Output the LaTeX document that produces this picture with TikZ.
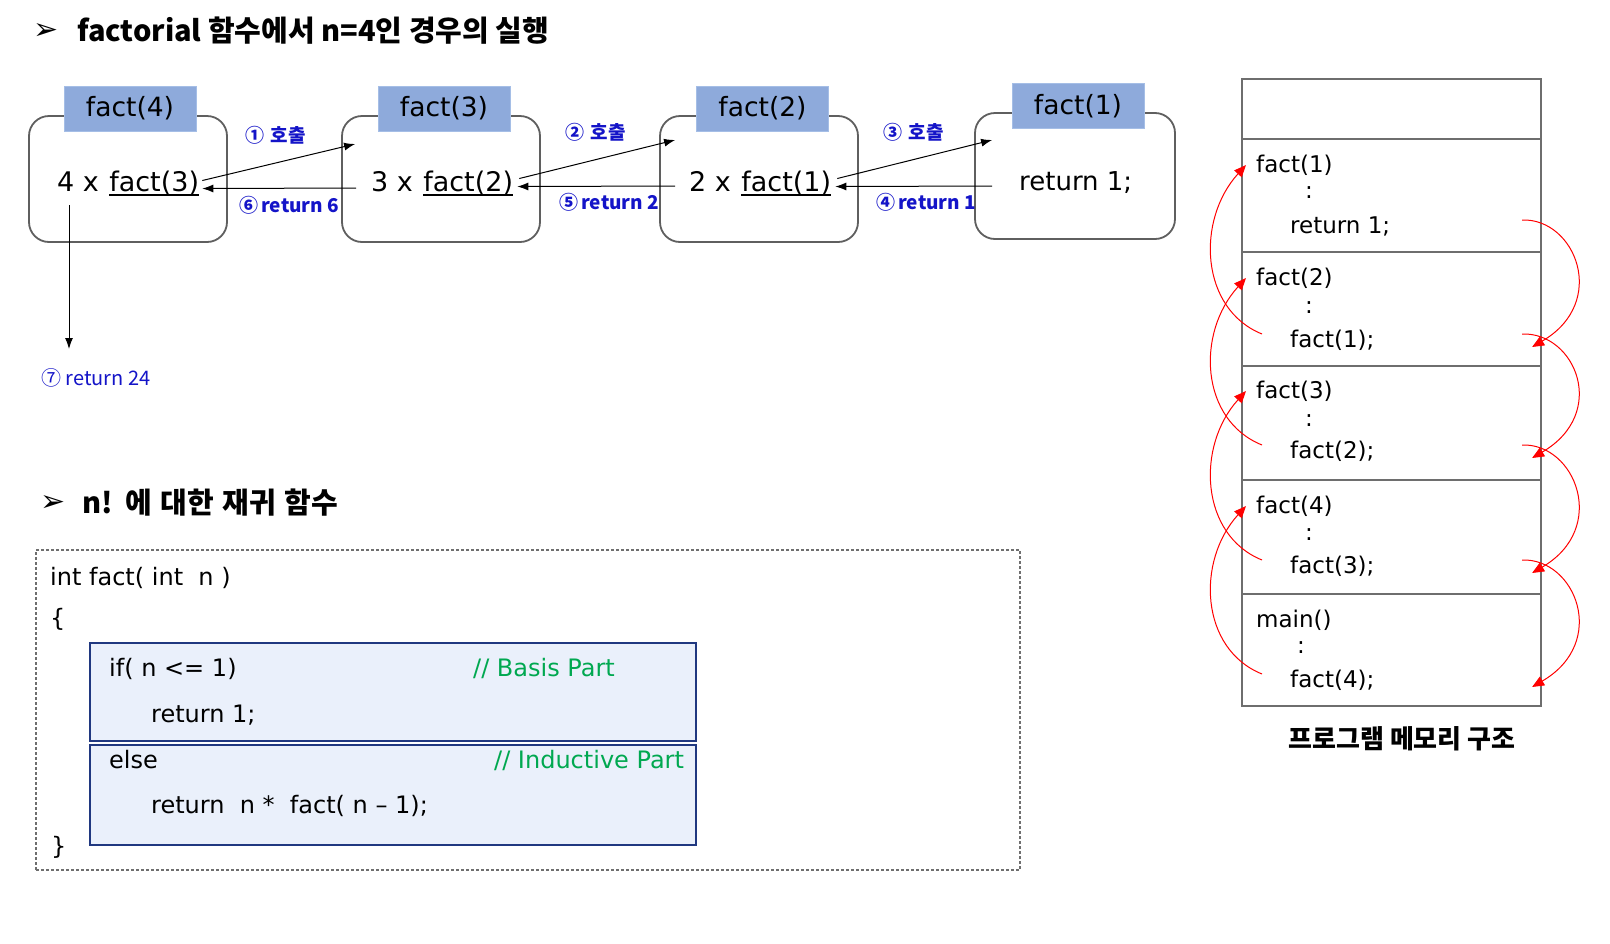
\documentclass[tikz,border=0pt]{standalone}
\usepackage{fontspec}
\setmainfont{DejaVu Sans}
\newfontfamily\krfont{Noto Sans CJK KR}
\usetikzlibrary{arrows.meta,calc}
\definecolor{framegray}{RGB}{95,95,95}
\definecolor{lblfill}{RGB}{142,170,219}
\definecolor{lbldraw}{RGB}{165,190,230}
\definecolor{numblue}{RGB}{20,20,200}
\definecolor{codegreen}{RGB}{0,168,80}
\definecolor{codefill}{RGB}{234,240,251}
\definecolor{codedraw}{RGB}{32,56,128}
\definecolor{stackgray}{RGB}{110,110,110}
\begin{document}
\begin{tikzpicture}[x=1pt,y=-1pt,
 frame/.style={draw=framegray,line width=1.8pt,rounded corners=20pt,minimum width=198pt,minimum height=126pt,inner sep=0pt},
 flabel/.style={fill=lblfill,draw=lbldraw,line width=1pt,minimum width=132pt,minimum height=45pt,inner sep=0pt,font=\fontsize{26.5}{30}\selectfont},
 btext/.style={anchor=base west,inner sep=0pt,font=\fontsize{27}{32}\selectfont},
 blbl/.style={anchor=west,inner sep=0pt,text=numblue,font=\krfont\bfseries\fontsize{19}{22}\selectfont},
 callarr/.style={-{Latex[length=11pt,width=8pt]},line width=1pt},
 uline/.style={line width=1.5pt},
 code/.style={anchor=base west,inner sep=0pt,font=\fontsize{24}{28}\selectfont},
 cmt/.style={code,text=codegreen},
 sblock/.style={fill=codefill,draw=codedraw,line width=2pt,inner sep=0pt,minimum width=606pt},
 stxt/.style={anchor=base west,inner sep=0pt,font=\fontsize{23}{27}\selectfont},
 redarr/.style={draw=red,line width=1pt,-{Triangle[length=12pt,width=10pt]}},
 head/.style={anchor=west,inner sep=0pt,font=\krfont\bfseries\fontsize{29}{34}\selectfont},
 bulletmark/.style={inner sep=0pt,font=\fontsize{30}{34}\selectfont},
 stackline/.style={draw=stackgray,line width=2.2pt},
]
\fill[white] (0,0) rectangle (1610,943);
\useasboundingbox (0,0) rectangle (1610,943);

% ---------- heading 1
\node[bulletmark] (bul1) at (46,31) {➢};
\node[head] (title1) at (77,31) {factorial 함수에서 n=4인 경우의 실행};

% ---------- call frames
\node[frame] (f4) at (128,179) {};
\node[frame] (f3) at (441,179) {};
\node[frame] (f2) at (759,179) {};
\node[frame,minimum width=200pt] (f1) at (1075,176) {};
\node[flabel] (l4) at (130,108.5) {fact(4)};
\node[flabel] (l3) at (444,108.5) {fact(3)};
\node[flabel] (l2) at (762.5,108.5) {fact(2)};
\node[flabel] (l1) at (1078,106) {fact(1)};

\node[btext] (t4n) at (57,191) {4 x};
\node[btext] (t4f) at ($(t4n.base east)+(10,0)$) {fact(3)};
\node[btext] (t3n) at (371,191) {3 x};
\node[btext] (t3f) at ($(t3n.base east)+(10,0)$) {fact(2)};
\node[btext] (t2n) at (689,191) {2 x};
\node[btext] (t2f) at ($(t2n.base east)+(10,0)$) {fact(1)};
\node[btext,font=\fontsize{26}{30}\selectfont] (t1) at (1019,190) {return 1;};

\draw[uline] ($(t4f.base west)+(0,4)$) -- ($(t4f.base east)+(0,4)$);
\draw[uline] ($(t3f.base west)+(0,4)$) -- ($(t3f.base east)+(0,4)$);
\draw[uline] ($(t2f.base west)+(0,4)$) -- ($(t2f.base east)+(0,4)$);

% calls
\draw[callarr] ($(t4f.east)+(3,-2)$) -- ($(f3.west)+(14,-35)$);
\draw[callarr] ($(t3f.east)+(6,-4)$) -- ($(f2.west)+(16,-39)$);
\draw[callarr] ($(t2f.east)+(6,-4)$) -- ($(f1.west)+(18,-36)$);
% returns
\draw[callarr] ($(f3.west)+(15,9)$) -- ($(t4f.east)+(3,6)$);
\draw[callarr] ($(f2.west)+(16,7)$) -- ($(t3f.east)+(4,4)$);
\draw[callarr] ($(f1.west)+(18,10)$) -- ($(t2f.east)+(4,4)$);

\node[blbl] (n1) at (245,135) {①\,\,호출};
\node[blbl] (n6) at (239,205) {⑥\,return 6};
\node[blbl] (n2) at (565,132) {②\,\,호출};
\node[blbl] (n5) at (559,202) {⑤\,return 2};
\node[blbl] (n3) at (883,132) {③\,\,호출};
\node[blbl] (n4) at (876,202) {④\,return 1};

\coordinate (s7) at ($(t4n.base west)+(12,14)$);
\node[blbl,font=\krfont\fontsize{20}{24}\selectfont] (n7) at (41,378) {⑦ return 24};
\coordinate (e7) at ($(n7.west)+(28,-29)$);
\draw[callarr] (s7) -- (e7);

% ---------- heading 2
\node[bulletmark] (bul2) at (53,503) {➢};
\node[head] (title2) at (82,503) {n!\hspace{4pt} 에\hspace{2pt} 대한\hspace{2pt} 재귀\hspace{2pt} 함수};

% ---------- code
\node[draw=stackgray,line width=1.2pt,dash pattern=on 3pt off 2pt,minimum width=984pt,minimum height=320pt,inner sep=0pt] (codebox) at (528,710) {};
\node[sblock,minimum height=98pt] (basis) at (393,692) {};
\node[sblock,minimum height=100pt] (induct) at (393,795) {};
\node[code] (c1) at (50,585) {int fact( int\ \ n )};
\node[code] (c2) at (50,626) {\{};
\node[code] (c3) at (109,676) {if( n <= 1)};
\node[cmt] (c4) at (473,676) {// Basis Part};
\node[code] (c5) at (151,722) {return 1;};
\node[code] (c6) at (109,768) {else};
\node[cmt] (c7) at (494,768) {// Inductive Part};
\node[code] (c8) at (151,813) {return\ \ n\ *\ \ fact(\ n\ –\ 1);};
\node[code] (c9) at (51,854) {\}};

% ---------- memory stack
\node[stackline,minimum width=299pt,minimum height=627pt,inner sep=0pt] (stack) at (1391.5,392.5) {};
\foreach \yy in {139,252,366,480,594}
  \draw[stackline] (1242,\yy) -- (1541,\yy);

\node[stxt] (s1a) at (1256,172) {fact(1)};
\node[stxt] (s1b) at (1305,198) {:};
\node[stxt] (s1c) at (1290,233) {return 1;};
\node[stxt] (s2a) at (1256,285) {fact(2)};
\node[stxt] (s2b) at (1305,313) {:};
\node[stxt] (s2c) at (1290,347) {fact(1);};
\node[stxt] (s3a) at (1256,398) {fact(3)};
\node[stxt] (s3b) at (1305,426) {:};
\node[stxt] (s3c) at (1290,458) {fact(2);};
\node[stxt] (s4a) at (1256,513) {fact(4)};
\node[stxt] (s4b) at (1305,540) {:};
\node[stxt] (s4c) at (1290,573) {fact(3);};
\node[stxt] (s5a) at (1256,627) {main()};
\node[stxt] (s5b) at (1297,653) {:};
\node[stxt] (s5c) at (1290,687) {fact(4);};

\foreach \fr/\tt in {s2c/s1a,s3c/s2a,s4c/s3a,s5c/s4a}
  \draw[redarr] ($(\fr.base west)+(-28,-13)$) .. controls +(-62,-25) and +(-50,55) .. ($(\tt.base west)+(-10,-7)$);
\foreach \fr/\tt in {s1c/s2c,s2c/s3c,s3c/s4c,s4c/s5c}
  \draw[redarr] ($(stack.east|-\fr.base)+(-20,-13)$) .. controls +(53,-2) and +(77,-45) .. ($(stack.east|-\tt.base)+(-10,0)$);

\node[inner sep=0pt,font=\krfont\bfseries\fontsize{26}{30}\selectfont] (cap) at (1402,739) {프로그램 메모리 구조};
\end{tikzpicture}
\end{document}
